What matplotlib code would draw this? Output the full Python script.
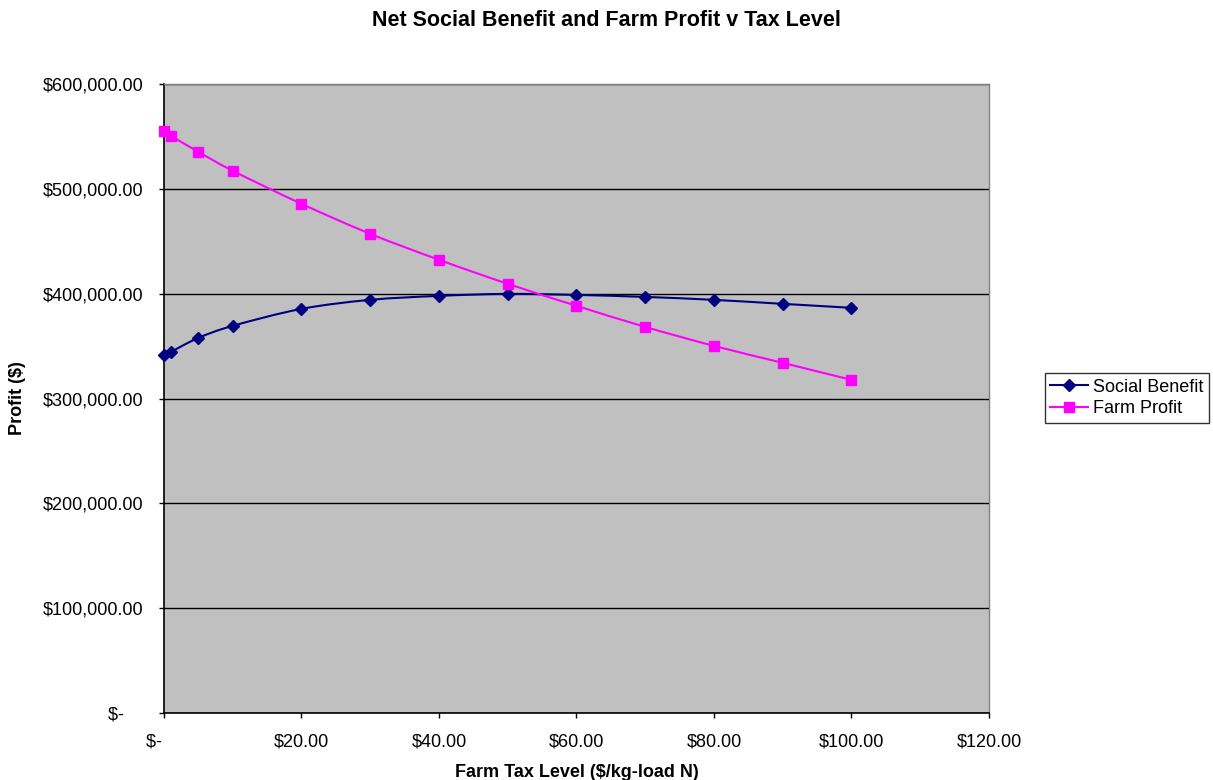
import matplotlib
matplotlib.use("Agg")
import matplotlib.pyplot as plt
from matplotlib.path import Path
from matplotlib.patches import PathPatch
from matplotlib.lines import Line2D
from matplotlib.ticker import FuncFormatter, MultipleLocator
import numpy as np

plt.rcParams['font.family'] = ['Liberation Sans', 'DejaVu Sans']

tax_levels = [0, 1, 5, 10, 20, 30, 40, 50, 60, 70, 80, 90, 100]
social_benefit = [341600, 344500, 357800, 369300, 385500, 394100, 397900,
                  399800, 398800, 396900, 394100, 390300, 386500]
farm_profit = [555300, 550600, 535300, 517200, 485700, 457100, 432300,
               409400, 388400, 368300, 350200, 334000, 317800]


def smooth_path(xs, ys):
    """Bezier curve through the points (Catmull-Rom style control points)."""
    pts = np.column_stack([xs, ys]).astype(float)
    n = len(pts)
    verts = [pts[0]]
    codes = [Path.MOVETO]
    for i in range(n - 1):
        p0 = pts[i - 1] if i > 0 else pts[i]
        p1 = pts[i]
        p2 = pts[i + 1]
        p3 = pts[i + 2] if i + 2 < n else pts[i + 1]
        c1 = p1 + (p2 - p0) / 6.0
        c2 = p2 - (p3 - p1) / 6.0
        verts += [c1, c2, p2]
        codes += [Path.CURVE4] * 3
    return Path(verts, codes)


fig = plt.figure(figsize=(12.13, 7.80), dpi=100)
ax = fig.add_axes([0.1352, 0.0859, 0.6801, 0.8064])
ax.set_facecolor('#c0c0c0')

series = [
    (social_benefit, '#000080', 'D', 6.5, 'Social Benefit'),
    (farm_profit, '#ff00ff', 's', 7.5, 'Farm Profit'),
]
handles = []
for vals, col, mk, ms, name in series:
    ax.add_patch(PathPatch(smooth_path(tax_levels, vals), facecolor='none',
                           edgecolor=col, lw=1.5, zorder=3))
    ax.plot(tax_levels, vals, linestyle='none', marker=mk, markersize=ms,
            color=col, markeredgecolor=col, zorder=4, clip_on=False)
    handles.append(Line2D([], [], color=col, lw=1.5, marker=mk,
                          markersize=ms, markeredgecolor=col, label=name))

ax.set_xlim(0, 120)
ax.set_ylim(0, 600000)
ax.xaxis.set_major_locator(MultipleLocator(20))
ax.yaxis.set_major_locator(MultipleLocator(100000))


def money(v, pos):
    if abs(v) < 1e-9:
        return '$-    '
    return '${:,.2f}'.format(v)


ax.xaxis.set_major_formatter(FuncFormatter(money))
ax.yaxis.set_major_formatter(FuncFormatter(money))
ax.tick_params(axis='both', direction='out', length=3.5, width=1, color='black',
               labelsize=13, labelcolor='black')
ax.tick_params(axis='x', pad=11)
ax.tick_params(axis='y', pad=11)

ax.grid(axis='y', color='black', lw=1, zorder=1)
ax.set_axisbelow(True)
for side in ['left', 'bottom']:
    ax.spines[side].set_color('black')
    ax.spines[side].set_linewidth(1.2)
for side in ['top', 'right']:
    ax.spines[side].set_color('#808080')
    ax.spines[side].set_linewidth(1)

ax.set_xlabel('Farm Tax Level ($/kg-load N)', fontsize=13,
              fontweight='bold', labelpad=10)
ax.set_ylabel('Profit ($)', fontsize=13, fontweight='bold', labelpad=12)
fig.text(0.5, 1 - 20 / 780, 'Net Social Benefit and Farm Profit v Tax Level',
         ha='center', va='center', fontsize=15.5, fontweight='bold')

leg = fig.legend(handles=handles, loc='center left',
                 bbox_to_anchor=(1045 / 1213, 1 - 398 / 780),
                 frameon=True, fancybox=False, fontsize=13,
                 handlelength=2.1, borderpad=0.3, labelspacing=0.25,
                 handletextpad=0.25, borderaxespad=0)
leg.get_frame().set_edgecolor('black')
leg.get_frame().set_linewidth(1)

fig.savefig('out.png', dpi=100)
